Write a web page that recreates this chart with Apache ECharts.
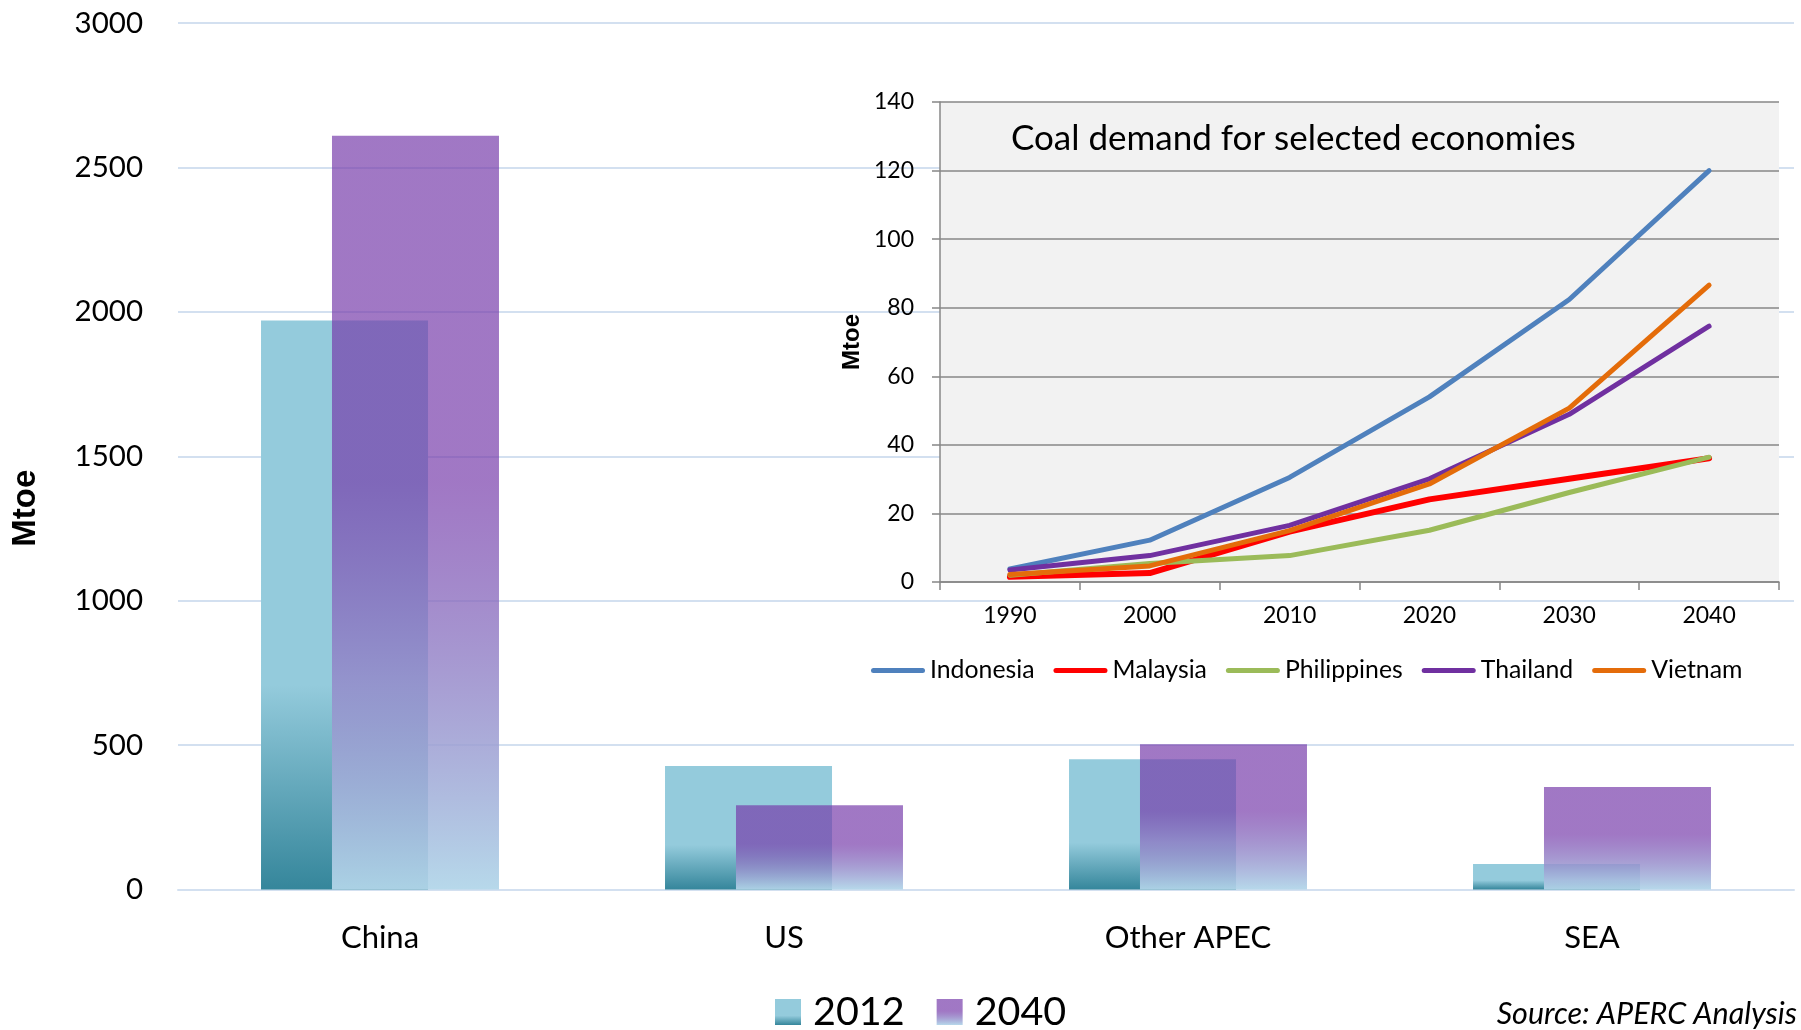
<!DOCTYPE html>
<html>
<head>
<meta charset="utf-8">
<script src="https://cdn.jsdelivr.net/npm/echarts@6/dist/echarts.min.js"></script>
<style>
  html, body { margin: 0; padding: 0; background: #ffffff; }
  #chart { width: 1801px; height: 1030px; }
</style>
</head>
<body>
<div id="chart"></div>
<script>
// Coal demand by region, 2012 vs 2040 (Mtoe)
const regions = ['China', 'US', 'Other APEC', 'SEA'];
const coal2012 = [1970, 428, 451, 88];
const coal2040 = [2610, 292, 503, 355];
const mainTicks = [0, 500, 1000, 1500, 2000, 2500, 3000];

// Coal demand for selected economies (Mtoe)
const years = ['1990', '2000', '2010', '2020', '2030', '2040'];
const indonesia = [3.8, 12.2, 30.5, 54, 82.4, 120];
const malaysia = [1.5, 2.6, 14.7, 24.1, 30.1, 36.1];
const philippines = [2, 5.4, 7.7, 15.1, 26.1, 36.4];
const thailand = [3.5, 7.7, 16.5, 30.1, 48.9, 74.6];
const vietnam = [2.2, 4.7, 15, 28.6, 50.7, 86.6];
const insetTicks = [0, 20, 40, 60, 80, 100, 120, 140];

const FONT = 'Lato';
const chart = echarts.init(document.getElementById('chart'), null, { renderer: 'canvas' });

const fill2012 = new echarts.graphic.LinearGradient(0, 0, 0, 1, [
  { offset: 0, color: '#94CBDC' },
  { offset: 0.64, color: '#94CBDC' },
  { offset: 1, color: '#35869B' }
]);
const fill2040 = new echarts.graphic.LinearGradient(0, 0, 0, 1, [
  { offset: 0, color: 'rgba(118,59,170,0.69)' },
  { offset: 0.46, color: 'rgba(118,59,170,0.69)' },
  { offset: 1, color: 'rgba(178,214,233,0.94)' }
]);

const lineIcon = 'path://M2.5,0 L51.5,0 A2.5,2.5 0 0 1 51.5,5 L2.5,5 A2.5,2.5 0 0 1 2.5,0 Z';

function lineSeries(name, data, color, width) {
  return {
    name: name,
    type: 'line',
    xAxisIndex: 1,
    yAxisIndex: 1,
    data: data,
    symbol: 'none',
    z: 7,
    lineStyle: { color: color, width: width, cap: 'round', join: 'round' },
    itemStyle: { color: color }
  };
}

const plain = function (v) { return String(v); };
const gridLine = '#D3E0F0';
const insetGrey = '#878787';

chart.setOption({
  animation: false,
  backgroundColor: '#ffffff',
  textStyle: { fontFamily: FONT, color: '#000' },
  title: [
    {
      text: 'Coal demand for selected economies',
      left: 1011,
      top: 121,
      padding: 0,
      z: 8,
      textStyle: { fontFamily: FONT, fontSize: 35, fontWeight: 'normal', color: '#000' }
    },
    {
      text: 'Source: APERC Analysis',
      right: 4,
      top: 999,
      padding: 0,
      textStyle: { fontFamily: FONT, fontSize: 30.5, fontStyle: 'italic', fontWeight: 'normal', color: '#000' }
    }
  ],
  legend: [
    {
      data: ['2012', '2040'],
      left: 775,
      top: 992,
      padding: 0,
      itemWidth: 26,
      itemHeight: 26,
      itemGap: 32,
      icon: 'rect',
      textStyle: { fontFamily: FONT, fontSize: 39.5, color: '#000', padding: [0, 0, 0, 7] }
    },
    {
      data: ['Indonesia', 'Malaysia', 'Philippines', 'Thailand', 'Vietnam'],
      left: 871,
      top: 658,
      padding: 0,
      itemWidth: 54,
      itemHeight: 5,
      itemGap: 19,
      icon: lineIcon,
      z: 8,
      textStyle: { fontFamily: FONT, fontSize: 24.8, color: '#000' }
    }
  ],
  grid: [
    { left: 178, top: 23, width: 1616, height: 866.5, containLabel: false },
    {
      left: 940, top: 102, width: 839, height: 480, containLabel: false,
      show: true, backgroundColor: '#F2F2F2', borderWidth: 0, z: 5
    }
  ],
  xAxis: [
    {
      type: 'category',
      gridIndex: 0,
      data: regions,
      axisTick: { show: false },
      axisLine: { show: true, lineStyle: { color: gridLine, width: 2 } },
      axisLabel: { fontFamily: FONT, fontSize: 31, color: '#000', margin: 33 }
    },
    {
      type: 'category',
      gridIndex: 1,
      data: years,
      boundaryGap: true,
      z: 6,
      axisTick: { show: true, length: 8, inside: false, alignWithLabel: false, lineStyle: { color: insetGrey, width: 1.5 } },
      axisLine: { show: true, lineStyle: { color: insetGrey, width: 1.5 } },
      axisLabel: { fontFamily: FONT, fontSize: 23, color: '#000', margin: 22 }
    }
  ],
  yAxis: [
    {
      type: 'value',
      gridIndex: 0,
      min: mainTicks[0],
      max: mainTicks[mainTicks.length - 1],
      interval: mainTicks[1] - mainTicks[0],
      name: 'Mtoe',
      nameLocation: 'middle',
      nameGap: 136,
      nameTextStyle: { fontFamily: 'Liberation Sans', fontWeight: 'bold', fontSize: 33, color: '#000', padding: [0, 104, 0, 0] },
      axisLine: { show: false },
      axisTick: { show: false },
      splitLine: { show: true, lineStyle: { color: gridLine, width: 2 } },
      axisLabel: { fontFamily: FONT, fontSize: 29.5, color: '#000', margin: 35, formatter: plain }
    },
    {
      type: 'value',
      gridIndex: 1,
      min: insetTicks[0],
      max: insetTicks[insetTicks.length - 1],
      interval: insetTicks[1] - insetTicks[0],
      z: 6,
      name: 'Mtoe',
      nameLocation: 'middle',
      nameGap: 76,
      nameTextStyle: { fontFamily: 'Liberation Sans', fontWeight: 'bold', fontSize: 24, color: '#000' },
      axisLine: { show: true, lineStyle: { color: insetGrey, width: 1.5 } },
      axisTick: { show: true, length: 8, inside: false, lineStyle: { color: insetGrey, width: 1.5 } },
      splitLine: { show: true, lineStyle: { color: insetGrey, width: 1.5 } },
      axisLabel: { fontFamily: FONT, fontSize: 23, color: '#000', margin: 26, formatter: plain }
    }
  ],
  series: [
    {
      name: '2012',
      type: 'bar',
      xAxisIndex: 0,
      yAxisIndex: 0,
      data: coal2012,
      barWidth: 167,
      barGap: '-57.5%',
      itemStyle: { color: fill2012 }
    },
    {
      name: '2040',
      type: 'bar',
      xAxisIndex: 0,
      yAxisIndex: 0,
      data: coal2040,
      barWidth: 167,
      barGap: '-57.5%',
      itemStyle: { color: fill2040 }
    },
    lineSeries('Indonesia', indonesia, '#4F81BD', 5),
    lineSeries('Malaysia', malaysia, '#FF0000', 6),
    lineSeries('Philippines', philippines, '#9BBB59', 5),
    lineSeries('Thailand', thailand, '#7030A0', 5),
    lineSeries('Vietnam', vietnam, '#E46C0A', 5)
  ]
});
</script>
</body>
</html>
